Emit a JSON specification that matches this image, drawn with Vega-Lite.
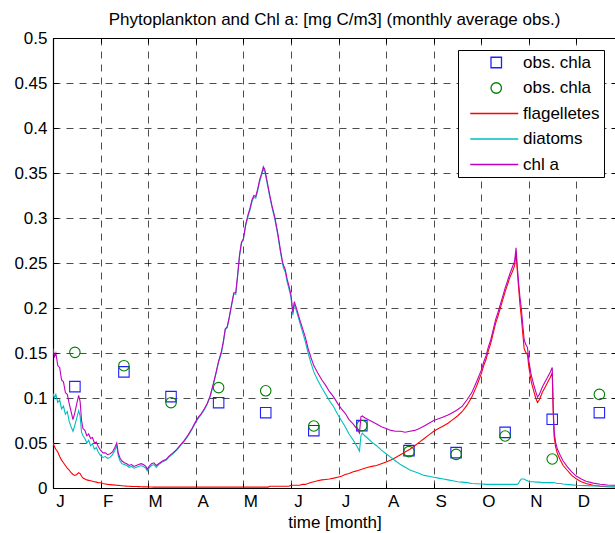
{
  "$schema": "https://vega.github.io/schema/vega-lite/v6.json",
  "width": 563,
  "height": 450,
  "autosize": {"type": "none"},
  "padding": {"left": 53, "top": 38, "right": 0, "bottom": 45},
  "background": "white",
  "title": {"text": "Phytoplankton and Chl a: [mg C/m3] (monthly average obs.)", "font": "Liberation Sans", "fontSize": 17, "fontWeight": "normal", "color": "black", "anchor": "middle", "baseline": "alphabetic", "offset": 12, "dy": 25},
  "config": {
    "view": {"stroke": "black", "strokeWidth": 1},
    "font": "Liberation Sans",
    "legend": {
      "title": null, "orient": "none", "legendX": 405, "legendY": 12,
      "padding": 4, "symbolOffset": 0, "labelOffset": 44, "rowPadding": 7.5,
      "strokeColor": "#000000", "fillColor": "#ffffff", "cornerRadius": 0,
      "labelFont": "Liberation Sans", "labelFontSize": 17, "labelColor": "#000000",
      "symbolSize": 110, "symbolStrokeWidth": 1.3
    }
  },
  "datasets": {
    "obs": [
      {"t": 0.46, "v": 0.1126, "s": "obs. chla"},
      {"t": 1.49, "v": 0.129, "s": "obs. chla"},
      {"t": 2.48, "v": 0.1015, "s": "obs. chla"},
      {"t": 3.48, "v": 0.0948, "s": "obs. chla"},
      {"t": 4.47, "v": 0.0837, "s": "obs. chla"},
      {"t": 5.48, "v": 0.0637, "s": "obs. chla"},
      {"t": 6.49, "v": 0.0693, "s": "obs. chla"},
      {"t": 7.48, "v": 0.0415, "s": "obs. chla"},
      {"t": 8.47, "v": 0.0393, "s": "obs. chla"},
      {"t": 9.5, "v": 0.0618, "s": "obs. chla"},
      {"t": 10.49, "v": 0.0763, "s": "obs. chla"},
      {"t": 11.48, "v": 0.0837, "s": "obs. chla"},
      {"t": 0.46, "v": 0.1507, "s": "obs. chla "},
      {"t": 1.49, "v": 0.1359, "s": "obs. chla "},
      {"t": 2.48, "v": 0.0948, "s": "obs. chla "},
      {"t": 3.48, "v": 0.1115, "s": "obs. chla "},
      {"t": 4.47, "v": 0.108, "s": "obs. chla "},
      {"t": 5.48, "v": 0.0689, "s": "obs. chla "},
      {"t": 6.49, "v": 0.0693, "s": "obs. chla "},
      {"t": 7.48, "v": 0.0404, "s": "obs. chla "},
      {"t": 8.47, "v": 0.0374, "s": "obs. chla "},
      {"t": 9.5, "v": 0.0578, "s": "obs. chla "},
      {"t": 10.49, "v": 0.0322, "s": "obs. chla "},
      {"t": 11.48, "v": 0.104, "s": "obs. chla "}
    ],
    "model": [
      {"t": 0.00, "flagelletes": 0.050, "diatoms": 0.105, "chl a": 0.155},
      {"t": 0.03, "flagelletes": 0.046, "diatoms": 0.100, "chl a": 0.146},
      {"t": 0.06, "flagelletes": 0.043, "diatoms": 0.104, "chl a": 0.150},
      {"t": 0.10, "flagelletes": 0.040, "diatoms": 0.095, "chl a": 0.136},
      {"t": 0.14, "flagelletes": 0.035, "diatoms": 0.098, "chl a": 0.134},
      {"t": 0.18, "flagelletes": 0.031, "diatoms": 0.088, "chl a": 0.120},
      {"t": 0.22, "flagelletes": 0.028, "diatoms": 0.091, "chl a": 0.118},
      {"t": 0.26, "flagelletes": 0.025, "diatoms": 0.082, "chl a": 0.106},
      {"t": 0.30, "flagelletes": 0.022, "diatoms": 0.085, "chl a": 0.104},
      {"t": 0.34, "flagelletes": 0.020, "diatoms": 0.074, "chl a": 0.094},
      {"t": 0.38, "flagelletes": 0.017, "diatoms": 0.068, "chl a": 0.085},
      {"t": 0.42, "flagelletes": 0.015, "diatoms": 0.063, "chl a": 0.076},
      {"t": 0.46, "flagelletes": 0.014, "diatoms": 0.070, "chl a": 0.084},
      {"t": 0.50, "flagelletes": 0.015, "diatoms": 0.078, "chl a": 0.094},
      {"t": 0.54, "flagelletes": 0.017, "diatoms": 0.086, "chl a": 0.103},
      {"t": 0.57, "flagelletes": 0.016, "diatoms": 0.080, "chl a": 0.096},
      {"t": 0.60, "flagelletes": 0.013, "diatoms": 0.062, "chl a": 0.075},
      {"t": 0.63, "flagelletes": 0.011, "diatoms": 0.058, "chl a": 0.066},
      {"t": 0.67, "flagelletes": 0.010, "diatoms": 0.055, "chl a": 0.064},
      {"t": 0.71, "flagelletes": 0.009, "diatoms": 0.050, "chl a": 0.058},
      {"t": 0.75, "flagelletes": 0.0085, "diatoms": 0.053, "chl a": 0.060},
      {"t": 0.79, "flagelletes": 0.008, "diatoms": 0.047, "chl a": 0.055},
      {"t": 0.83, "flagelletes": 0.0075, "diatoms": 0.049, "chl a": 0.056},
      {"t": 0.87, "flagelletes": 0.007, "diatoms": 0.043, "chl a": 0.050},
      {"t": 0.91, "flagelletes": 0.0065, "diatoms": 0.045, "chl a": 0.051},
      {"t": 0.95, "flagelletes": 0.006, "diatoms": 0.040, "chl a": 0.046},
      {"t": 1.00, "flagelletes": 0.0058, "diatoms": 0.036, "chl a": 0.042},
      {"t": 1.05, "flagelletes": 0.005, "diatoms": 0.034, "chl a": 0.039},
      {"t": 1.10, "flagelletes": 0.0045, "diatoms": 0.035, "chl a": 0.039},
      {"t": 1.15, "flagelletes": 0.004, "diatoms": 0.033, "chl a": 0.037},
      {"t": 1.20, "flagelletes": 0.0038, "diatoms": 0.034, "chl a": 0.038},
      {"t": 1.25, "flagelletes": 0.0035, "diatoms": 0.037, "chl a": 0.040},
      {"t": 1.30, "flagelletes": 0.0032, "diatoms": 0.042, "chl a": 0.045},
      {"t": 1.34, "flagelletes": 0.003, "diatoms": 0.047, "chl a": 0.050},
      {"t": 1.37, "flagelletes": 0.0029, "diatoms": 0.036, "chl a": 0.039},
      {"t": 1.41, "flagelletes": 0.0027, "diatoms": 0.030, "chl a": 0.033},
      {"t": 1.45, "flagelletes": 0.0025, "diatoms": 0.027, "chl a": 0.030},
      {"t": 1.50, "flagelletes": 0.0023, "diatoms": 0.026, "chl a": 0.028},
      {"t": 1.55, "flagelletes": 0.0021, "diatoms": 0.025, "chl a": 0.027},
      {"t": 1.60, "flagelletes": 0.002, "diatoms": 0.023, "chl a": 0.025},
      {"t": 1.65, "flagelletes": 0.0018, "diatoms": 0.024, "chl a": 0.026},
      {"t": 1.70, "flagelletes": 0.0017, "diatoms": 0.022, "chl a": 0.024},
      {"t": 1.75, "flagelletes": 0.0016, "diatoms": 0.023, "chl a": 0.025},
      {"t": 1.80, "flagelletes": 0.0015, "diatoms": 0.024, "chl a": 0.026},
      {"t": 1.85, "flagelletes": 0.0014, "diatoms": 0.025, "chl a": 0.027},
      {"t": 1.90, "flagelletes": 0.0013, "diatoms": 0.024, "chl a": 0.026},
      {"t": 1.95, "flagelletes": 0.0012, "diatoms": 0.022, "chl a": 0.024},
      {"t": 1.98, "flagelletes": 0.0012, "diatoms": 0.019, "chl a": 0.021},
      {"t": 2.02, "flagelletes": 0.0011, "diatoms": 0.022, "chl a": 0.024},
      {"t": 2.07, "flagelletes": 0.0011, "diatoms": 0.025, "chl a": 0.027},
      {"t": 2.12, "flagelletes": 0.001, "diatoms": 0.026, "chl a": 0.028},
      {"t": 2.17, "flagelletes": 0.001, "diatoms": 0.023, "chl a": 0.025},
      {"t": 2.22, "flagelletes": 0.001, "diatoms": 0.026, "chl a": 0.027},
      {"t": 2.30, "flagelletes": 0.001, "diatoms": 0.029, "chl a": 0.030},
      {"t": 2.38, "flagelletes": 0.001, "diatoms": 0.031, "chl a": 0.032},
      {"t": 2.45, "flagelletes": 0.001, "diatoms": 0.035, "chl a": 0.036},
      {"t": 2.52, "flagelletes": 0.001, "diatoms": 0.038, "chl a": 0.039},
      {"t": 2.60, "flagelletes": 0.001, "diatoms": 0.042, "chl a": 0.043},
      {"t": 2.68, "flagelletes": 0.001, "diatoms": 0.047, "chl a": 0.048},
      {"t": 2.76, "flagelletes": 0.001, "diatoms": 0.052, "chl a": 0.053},
      {"t": 2.84, "flagelletes": 0.001, "diatoms": 0.058, "chl a": 0.059},
      {"t": 2.92, "flagelletes": 0.001, "diatoms": 0.065, "chl a": 0.066},
      {"t": 3.00, "flagelletes": 0.001, "diatoms": 0.073, "chl a": 0.074},
      {"t": 3.06, "flagelletes": 0.001, "diatoms": 0.078, "chl a": 0.079},
      {"t": 3.12, "flagelletes": 0.001, "diatoms": 0.082, "chl a": 0.083},
      {"t": 3.18, "flagelletes": 0.001, "diatoms": 0.087, "chl a": 0.088},
      {"t": 3.24, "flagelletes": 0.001, "diatoms": 0.093, "chl a": 0.094},
      {"t": 3.30, "flagelletes": 0.001, "diatoms": 0.101, "chl a": 0.102},
      {"t": 3.36, "flagelletes": 0.001, "diatoms": 0.113, "chl a": 0.114},
      {"t": 3.42, "flagelletes": 0.001, "diatoms": 0.126, "chl a": 0.127},
      {"t": 3.48, "flagelletes": 0.001, "diatoms": 0.140, "chl a": 0.141},
      {"t": 3.54, "flagelletes": 0.001, "diatoms": 0.150, "chl a": 0.152},
      {"t": 3.58, "flagelletes": 0.001, "diatoms": 0.162, "chl a": 0.163},
      {"t": 3.62, "flagelletes": 0.001, "diatoms": 0.176, "chl a": 0.177},
      {"t": 3.66, "flagelletes": 0.001, "diatoms": 0.178, "chl a": 0.179},
      {"t": 3.70, "flagelletes": 0.001, "diatoms": 0.188, "chl a": 0.189},
      {"t": 3.76, "flagelletes": 0.001, "diatoms": 0.205, "chl a": 0.206},
      {"t": 3.80, "flagelletes": 0.001, "diatoms": 0.216, "chl a": 0.217},
      {"t": 3.84, "flagelletes": 0.001, "diatoms": 0.215, "chl a": 0.217},
      {"t": 3.88, "flagelletes": 0.001, "diatoms": 0.236, "chl a": 0.237},
      {"t": 3.92, "flagelletes": 0.001, "diatoms": 0.258, "chl a": 0.259},
      {"t": 3.96, "flagelletes": 0.001, "diatoms": 0.272, "chl a": 0.273},
      {"t": 4.00, "flagelletes": 0.001, "diatoms": 0.276, "chl a": 0.277},
      {"t": 4.05, "flagelletes": 0.001, "diatoms": 0.292, "chl a": 0.293},
      {"t": 4.10, "flagelletes": 0.001, "diatoms": 0.302, "chl a": 0.304},
      {"t": 4.14, "flagelletes": 0.001, "diatoms": 0.309, "chl a": 0.311},
      {"t": 4.18, "flagelletes": 0.001, "diatoms": 0.318, "chl a": 0.320},
      {"t": 4.22, "flagelletes": 0.001, "diatoms": 0.323, "chl a": 0.325},
      {"t": 4.26, "flagelletes": 0.001, "diatoms": 0.322, "chl a": 0.324},
      {"t": 4.30, "flagelletes": 0.001, "diatoms": 0.330, "chl a": 0.332},
      {"t": 4.34, "flagelletes": 0.001, "diatoms": 0.340, "chl a": 0.342},
      {"t": 4.38, "flagelletes": 0.001, "diatoms": 0.347, "chl a": 0.349},
      {"t": 4.42, "flagelletes": 0.001, "diatoms": 0.354, "chl a": 0.357},
      {"t": 4.45, "flagelletes": 0.001, "diatoms": 0.352, "chl a": 0.354},
      {"t": 4.48, "flagelletes": 0.001, "diatoms": 0.344, "chl a": 0.346},
      {"t": 4.52, "flagelletes": 0.001, "diatoms": 0.333, "chl a": 0.335},
      {"t": 4.56, "flagelletes": 0.002, "diatoms": 0.322, "chl a": 0.324},
      {"t": 4.60, "flagelletes": 0.002, "diatoms": 0.312, "chl a": 0.314},
      {"t": 4.66, "flagelletes": 0.002, "diatoms": 0.299, "chl a": 0.301},
      {"t": 4.72, "flagelletes": 0.002, "diatoms": 0.282, "chl a": 0.284},
      {"t": 4.78, "flagelletes": 0.002, "diatoms": 0.262, "chl a": 0.264},
      {"t": 4.82, "flagelletes": 0.002, "diatoms": 0.250, "chl a": 0.252},
      {"t": 4.84, "flagelletes": 0.002, "diatoms": 0.245, "chl a": 0.248},
      {"t": 4.88, "flagelletes": 0.002, "diatoms": 0.240, "chl a": 0.243},
      {"t": 4.92, "flagelletes": 0.002, "diatoms": 0.229, "chl a": 0.232},
      {"t": 4.96, "flagelletes": 0.002, "diatoms": 0.221, "chl a": 0.224},
      {"t": 5.00, "flagelletes": 0.003, "diatoms": 0.212, "chl a": 0.215},
      {"t": 5.04, "flagelletes": 0.003, "diatoms": 0.192, "chl a": 0.195},
      {"t": 5.07, "flagelletes": 0.003, "diatoms": 0.204, "chl a": 0.207},
      {"t": 5.12, "flagelletes": 0.003, "diatoms": 0.196, "chl a": 0.199},
      {"t": 5.18, "flagelletes": 0.003, "diatoms": 0.185, "chl a": 0.188},
      {"t": 5.24, "flagelletes": 0.004, "diatoms": 0.174, "chl a": 0.178},
      {"t": 5.30, "flagelletes": 0.004, "diatoms": 0.163, "chl a": 0.168},
      {"t": 5.36, "flagelletes": 0.005, "diatoms": 0.150, "chl a": 0.155},
      {"t": 5.42, "flagelletes": 0.006, "diatoms": 0.139, "chl a": 0.145},
      {"t": 5.48, "flagelletes": 0.007, "diatoms": 0.129, "chl a": 0.136},
      {"t": 5.56, "flagelletes": 0.008, "diatoms": 0.120, "chl a": 0.128},
      {"t": 5.65, "flagelletes": 0.009, "diatoms": 0.111, "chl a": 0.120},
      {"t": 5.73, "flagelletes": 0.0095, "diatoms": 0.104, "chl a": 0.114},
      {"t": 5.81, "flagelletes": 0.010, "diatoms": 0.097, "chl a": 0.107},
      {"t": 5.90, "flagelletes": 0.011, "diatoms": 0.090, "chl a": 0.101},
      {"t": 5.98, "flagelletes": 0.012, "diatoms": 0.082, "chl a": 0.094},
      {"t": 6.06, "flagelletes": 0.013, "diatoms": 0.075, "chl a": 0.088},
      {"t": 6.14, "flagelletes": 0.015, "diatoms": 0.068, "chl a": 0.083},
      {"t": 6.22, "flagelletes": 0.016, "diatoms": 0.060, "chl a": 0.076},
      {"t": 6.31, "flagelletes": 0.018, "diatoms": 0.053, "chl a": 0.071},
      {"t": 6.38, "flagelletes": 0.019, "diatoms": 0.047, "chl a": 0.066},
      {"t": 6.44, "flagelletes": 0.020, "diatoms": 0.041, "chl a": 0.061},
      {"t": 6.47, "flagelletes": 0.0205, "diatoms": 0.058, "chl a": 0.079},
      {"t": 6.50, "flagelletes": 0.021, "diatoms": 0.061, "chl a": 0.080},
      {"t": 6.55, "flagelletes": 0.022, "diatoms": 0.058, "chl a": 0.078},
      {"t": 6.62, "flagelletes": 0.023, "diatoms": 0.055, "chl a": 0.076},
      {"t": 6.70, "flagelletes": 0.024, "diatoms": 0.051, "chl a": 0.074},
      {"t": 6.80, "flagelletes": 0.025, "diatoms": 0.047, "chl a": 0.071},
      {"t": 6.90, "flagelletes": 0.027, "diatoms": 0.042, "chl a": 0.068},
      {"t": 7.00, "flagelletes": 0.029, "diatoms": 0.038, "chl a": 0.066},
      {"t": 7.10, "flagelletes": 0.031, "diatoms": 0.034, "chl a": 0.064},
      {"t": 7.20, "flagelletes": 0.034, "diatoms": 0.030, "chl a": 0.063},
      {"t": 7.30, "flagelletes": 0.037, "diatoms": 0.026, "chl a": 0.063},
      {"t": 7.40, "flagelletes": 0.040, "diatoms": 0.023, "chl a": 0.062},
      {"t": 7.50, "flagelletes": 0.043, "diatoms": 0.020, "chl a": 0.063},
      {"t": 7.60, "flagelletes": 0.047, "diatoms": 0.018, "chl a": 0.064},
      {"t": 7.70, "flagelletes": 0.051, "diatoms": 0.016, "chl a": 0.066},
      {"t": 7.80, "flagelletes": 0.055, "diatoms": 0.014, "chl a": 0.069},
      {"t": 7.90, "flagelletes": 0.059, "diatoms": 0.013, "chl a": 0.072},
      {"t": 8.00, "flagelletes": 0.063, "diatoms": 0.012, "chl a": 0.075},
      {"t": 8.10, "flagelletes": 0.066, "diatoms": 0.011, "chl a": 0.077},
      {"t": 8.20, "flagelletes": 0.069, "diatoms": 0.010, "chl a": 0.079},
      {"t": 8.30, "flagelletes": 0.072, "diatoms": 0.009, "chl a": 0.081},
      {"t": 8.40, "flagelletes": 0.076, "diatoms": 0.008, "chl a": 0.084},
      {"t": 8.50, "flagelletes": 0.080, "diatoms": 0.007, "chl a": 0.087},
      {"t": 8.60, "flagelletes": 0.085, "diatoms": 0.0065, "chl a": 0.091},
      {"t": 8.70, "flagelletes": 0.092, "diatoms": 0.006, "chl a": 0.098},
      {"t": 8.80, "flagelletes": 0.101, "diatoms": 0.005, "chl a": 0.106},
      {"t": 8.90, "flagelletes": 0.113, "diatoms": 0.0048, "chl a": 0.118},
      {"t": 9.00, "flagelletes": 0.127, "diatoms": 0.0045, "chl a": 0.131},
      {"t": 9.05, "flagelletes": 0.136, "diatoms": 0.0043, "chl a": 0.140},
      {"t": 9.10, "flagelletes": 0.143, "diatoms": 0.004, "chl a": 0.147},
      {"t": 9.15, "flagelletes": 0.153, "diatoms": 0.004, "chl a": 0.157},
      {"t": 9.20, "flagelletes": 0.161, "diatoms": 0.004, "chl a": 0.165},
      {"t": 9.25, "flagelletes": 0.172, "diatoms": 0.004, "chl a": 0.176},
      {"t": 9.30, "flagelletes": 0.183, "diatoms": 0.004, "chl a": 0.187},
      {"t": 9.35, "flagelletes": 0.191, "diatoms": 0.004, "chl a": 0.195},
      {"t": 9.40, "flagelletes": 0.200, "diatoms": 0.004, "chl a": 0.204},
      {"t": 9.45, "flagelletes": 0.209, "diatoms": 0.004, "chl a": 0.213},
      {"t": 9.50, "flagelletes": 0.218, "diatoms": 0.004, "chl a": 0.222},
      {"t": 9.55, "flagelletes": 0.226, "diatoms": 0.004, "chl a": 0.230},
      {"t": 9.60, "flagelletes": 0.234, "diatoms": 0.004, "chl a": 0.238},
      {"t": 9.65, "flagelletes": 0.240, "diatoms": 0.004, "chl a": 0.245},
      {"t": 9.70, "flagelletes": 0.247, "diatoms": 0.004, "chl a": 0.252},
      {"t": 9.73, "flagelletes": 0.262, "diatoms": 0.004, "chl a": 0.267},
      {"t": 9.75, "flagelletes": 0.246, "diatoms": 0.004, "chl a": 0.250},
      {"t": 9.78, "flagelletes": 0.225, "diatoms": 0.005, "chl a": 0.230},
      {"t": 9.81, "flagelletes": 0.205, "diatoms": 0.008, "chl a": 0.213},
      {"t": 9.84, "flagelletes": 0.190, "diatoms": 0.010, "chl a": 0.200},
      {"t": 9.87, "flagelletes": 0.172, "diatoms": 0.010, "chl a": 0.182},
      {"t": 9.90, "flagelletes": 0.155, "diatoms": 0.010, "chl a": 0.165},
      {"t": 9.93, "flagelletes": 0.151, "diatoms": 0.009, "chl a": 0.160},
      {"t": 9.97, "flagelletes": 0.148, "diatoms": 0.008, "chl a": 0.156},
      {"t": 10.00, "flagelletes": 0.134, "diatoms": 0.007, "chl a": 0.141},
      {"t": 10.05, "flagelletes": 0.118, "diatoms": 0.007, "chl a": 0.125},
      {"t": 10.10, "flagelletes": 0.108, "diatoms": 0.007, "chl a": 0.115},
      {"t": 10.15, "flagelletes": 0.099, "diatoms": 0.0065, "chl a": 0.106},
      {"t": 10.18, "flagelletes": 0.095, "diatoms": 0.0065, "chl a": 0.101},
      {"t": 10.22, "flagelletes": 0.098, "diatoms": 0.0065, "chl a": 0.104},
      {"t": 10.28, "flagelletes": 0.106, "diatoms": 0.006, "chl a": 0.112},
      {"t": 10.34, "flagelletes": 0.112, "diatoms": 0.006, "chl a": 0.118},
      {"t": 10.40, "flagelletes": 0.118, "diatoms": 0.006, "chl a": 0.124},
      {"t": 10.45, "flagelletes": 0.123, "diatoms": 0.006, "chl a": 0.129},
      {"t": 10.49, "flagelletes": 0.128, "diatoms": 0.006, "chl a": 0.134},
      {"t": 10.51, "flagelletes": 0.085, "diatoms": 0.006, "chl a": 0.091},
      {"t": 10.53, "flagelletes": 0.057, "diatoms": 0.006, "chl a": 0.063},
      {"t": 10.56, "flagelletes": 0.046, "diatoms": 0.0055, "chl a": 0.051},
      {"t": 10.60, "flagelletes": 0.038, "diatoms": 0.005, "chl a": 0.043},
      {"t": 10.66, "flagelletes": 0.031, "diatoms": 0.005, "chl a": 0.036},
      {"t": 10.72, "flagelletes": 0.025, "diatoms": 0.0045, "chl a": 0.030},
      {"t": 10.80, "flagelletes": 0.020, "diatoms": 0.004, "chl a": 0.024},
      {"t": 10.90, "flagelletes": 0.014, "diatoms": 0.0035, "chl a": 0.018},
      {"t": 11.00, "flagelletes": 0.010, "diatoms": 0.003, "chl a": 0.013},
      {"t": 11.10, "flagelletes": 0.007, "diatoms": 0.0028, "chl a": 0.010},
      {"t": 11.20, "flagelletes": 0.005, "diatoms": 0.0026, "chl a": 0.0076},
      {"t": 11.35, "flagelletes": 0.003, "diatoms": 0.0024, "chl a": 0.0054},
      {"t": 11.50, "flagelletes": 0.002, "diatoms": 0.0022, "chl a": 0.0042},
      {"t": 11.65, "flagelletes": 0.0014, "diatoms": 0.002, "chl a": 0.0034},
      {"t": 11.83, "flagelletes": 0.001, "diatoms": 0.002, "chl a": 0.003}
    ]
  },
  "resolve": {"axis": {"x": "independent", "y": "independent"}},
  "layer": [
    {
      "data": {"name": "obs"},
      "transform": [{"filter": "datum.s == 'obs. chla'"}],
      "mark": {"type": "point", "shape": "square", "filled": false, "size": 110, "strokeWidth": 1.1, "opacity": 1},
      "encoding": {
        "x": {
          "field": "t", "type": "quantitative",
          "scale": {"domain": [0, 11.83], "nice": false, "zero": false},
          "axis": {
            "orient": "bottom",
            "values": [0, 1, 2, 3, 4, 5, 6, 7, 8, 9, 10, 11],
            "labelExpr": "['J','F','M','A','M','J','J','A','S','O','N','D'][datum.value]",
            "grid": true, "gridDash": [7, 6], "gridColor": "#000000", "gridWidth": 0.7, "gridOpacity": 1,
            "tickSize": -5, "tickColor": "#000000", "tickWidth": 1,
            "domain": true, "domainColor": "#000000", "domainWidth": 1.2,
            "labelFont": "Liberation Sans", "labelFontSize": 17, "labelColor": "#000000",
            "labelPadding": 10, "labelOffset": 7, "labelFlush": false, "labelOverlap": false, "labelBound": false,
            "title": "time [month]", "titleFont": "Liberation Sans", "titleFontSize": 17, "titleFontWeight": "normal", "titleColor": "#000000",
            "titleY": 39, "titleBaseline": "alphabetic"
          }
        },
        "y": {
          "field": "v", "type": "quantitative",
          "scale": {"domain": [0, 0.5], "nice": false, "zero": false},
          "axis": {
            "orient": "left",
            "values": [0, 0.05, 0.1, 0.15, 0.2, 0.25, 0.3, 0.35, 0.4, 0.45, 0.5],
            "format": "~g",
            "grid": true, "gridDash": [7, 6], "gridColor": "#000000", "gridWidth": 0.7, "gridOpacity": 1,
            "tickSize": -5, "tickColor": "#000000", "tickWidth": 1,
            "domain": true, "domainColor": "#000000", "domainWidth": 1.2,
            "labelFont": "Liberation Sans", "labelFontSize": 17, "labelColor": "#000000",
            "labelPadding": 11, "labelFlush": false, "labelOverlap": false, "labelBound": false,
            "title": null
          }
        },
        "color": {
          "field": "s", "type": "nominal",
          "scale": {
            "domain": ["obs. chla", "obs. chla ", "flagelletes", "diatoms", "chl a"],
            "range": ["#2020ff", "#008000", "#ff0000", "#00bfbf", "#bf00bf"]
          }
        }
      }
    },
    {
      "data": {"name": "obs"},
      "transform": [{"filter": "datum.s == 'obs. chla '"}],
      "mark": {"type": "point", "shape": "circle", "filled": false, "size": 110, "strokeWidth": 1.1, "opacity": 1},
      "encoding": {
        "x": {"field": "t", "type": "quantitative", "axis": null},
        "y": {"field": "v", "type": "quantitative", "axis": null},
        "color": {"field": "s", "type": "nominal"}
      }
    },
    {
      "data": {"name": "obs"},
      "transform": [{"filter": "false"}],
      "mark": {"type": "point", "filled": false, "size": 110, "strokeWidth": 1.1},
      "encoding": {
        "x": {"field": "t", "type": "quantitative", "axis": null},
        "y": {"field": "v", "type": "quantitative", "axis": null},
        "color": {"field": "s", "type": "nominal"},
        "shape": {
          "field": "s", "type": "nominal",
          "scale": {
            "domain": ["obs. chla", "obs. chla ", "flagelletes", "diatoms", "chl a"],
            "range": ["M3.91,-1H5.91V1H3.91Z", "M3.91,0A1,1 0 1,0 5.91,0A1,1 0 1,0 3.91,0Z", "M-0.05,0H9.11", "M-0.05,0H9.11", "M-0.05,0H9.11"]
          }
        }
      }
    },
    {
      "data": {"name": "model"},
      "transform": [{"fold": ["flagelletes", "diatoms", "chl a"], "as": ["s", "v"]}],
      "mark": {"type": "line", "strokeWidth": 1.1, "clip": true},
      "encoding": {
        "x": {
          "field": "t", "type": "quantitative",
          "axis": {"orient": "top", "values": [0, 1, 2, 3, 4, 5, 6, 7, 8, 9, 10, 11], "labels": false, "grid": false, "domain": false, "tickSize": -5, "tickColor": "#000000", "title": null}
        },
        "y": {
          "field": "v", "type": "quantitative",
          "axis": {"orient": "right", "values": [0, 0.05, 0.1, 0.15, 0.2, 0.25, 0.3, 0.35, 0.4, 0.45, 0.5], "labels": false, "grid": false, "domain": false, "tickSize": -5, "tickColor": "#000000", "title": null}
        },
        "color": {"field": "s", "type": "nominal"}
      }
    }
  ]
}
